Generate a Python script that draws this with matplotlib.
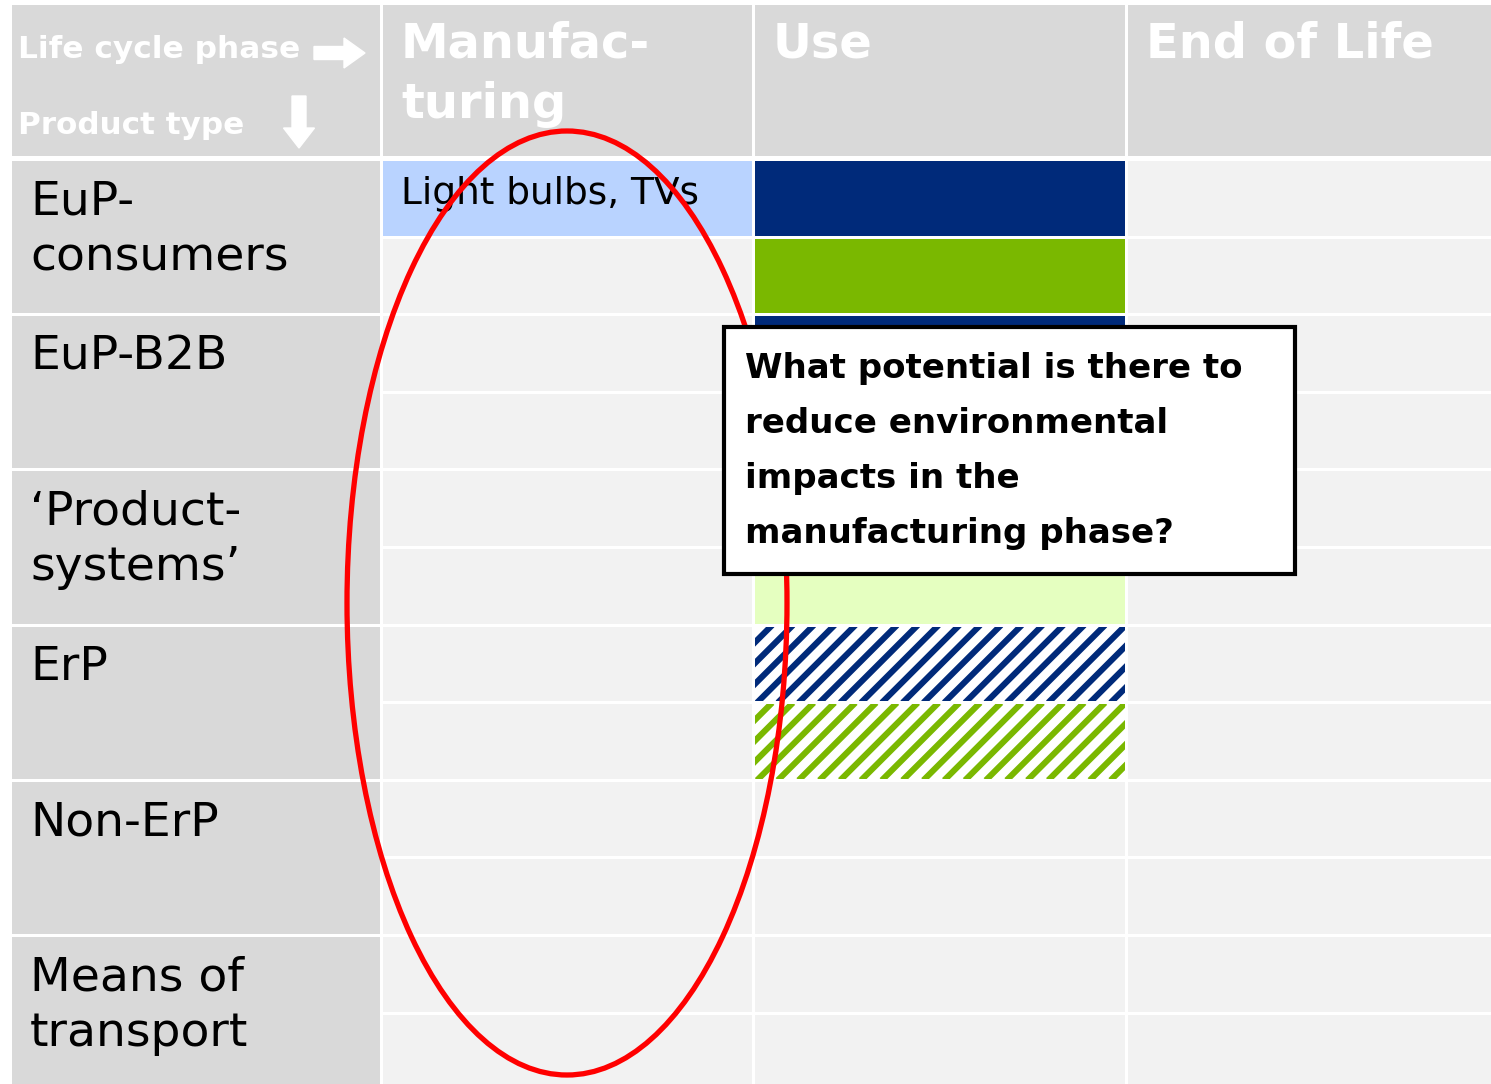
import matplotlib.pyplot as plt
from matplotlib.patches import Rectangle, Ellipse, FancyArrow
import numpy as np

# data
phases = ["Manufac-\nturing", "Use", "End of Life"]
product_types = ["EuP-\nconsumers", "EuP-B2B", "\u2018Product-\nsystems\u2019",
                 "ErP", "Non-ErP", "Means of\ntransport"]
corner_top = "Life cycle phase"
corner_bottom = "Product type"
manuf_note = "Light bulbs, TVs"
question = ("What potential is there to\nreduce environmental\n"
            "impacts in the\nmanufacturing phase?")

navy = "#002a7a"
green = "#7ab800"
lightblue = "#b9d3ff"
lightgreen = "#e5ffc0"
# fill of the 12 sub-rows in the "Use" column (None = plain cell)
use_fill = [navy, green, navy, green, lightblue, lightgreen,
            navy, green, None, None, None, None]
use_hatched = [False] * 6 + [True, True] + [False] * 4

# layout (pixels)
W, H = 1491, 1084
col_edges = [10, 381, 753, 1126, 1493]
head_top, head_bot = 5, 157
row_top, row_step = 159.5, 77.6
gap = 1.5
grey_dark = "#d9d9d9"
grey_light = "#f2f2f2"

fig = plt.figure(figsize=(W / 100, H / 100), dpi=100)
ax = fig.add_axes([0, 0, 1, 1])
ax.set_xlim(0, W)
ax.set_ylim(H, 0)
ax.axis("off")


def cell(x0, x1, y0, y1, fc, **kw):
    r = Rectangle((x0 + gap, y0 + gap), x1 - x0 - 2 * gap, y1 - y0 - 2 * gap,
                  facecolor=fc, edgecolor="none", **kw)
    ax.add_patch(r)
    return r


# header
for c in range(4):
    cell(col_edges[c], col_edges[c + 1], head_top - gap, head_bot, grey_dark)
for c, name in enumerate(phases):
    ax.text(col_edges[c + 1] + 20, 20, name, color="white", fontsize=34.5,
            fontweight="bold", va="top", ha="left", linespacing=1.37)

ax.text(18, 50, corner_top, color="white", fontsize=22.5, fontweight="bold",
        va="center", ha="left")
ax.text(18, 126, corner_bottom, color="white", fontsize=22.3, fontweight="bold",
        va="center", ha="left")
ax.add_patch(FancyArrow(314, 53, 30, 0, width=13, head_width=30,
                        head_length=21, color="white"))
ax.add_patch(FancyArrow(299, 96, 0, 32, width=14, head_width=31,
                        head_length=20, color="white"))

n_sub = 2 * len(product_types)
rows_y = [row_top + i * row_step for i in range(n_sub + 1)]

# left column: product types
for i, name in enumerate(product_types):
    y0, y1 = rows_y[2 * i], rows_y[2 * i + 2]
    cell(col_edges[0], col_edges[1], y0, y1, grey_dark)
    ax.text(30, y0 + 20, name, fontsize=34, va="top", ha="left",
            linespacing=1.3)

# body cells
for i in range(n_sub):
    y0, y1 = rows_y[i], rows_y[i + 1]
    for c in range(1, 4):
        fc = grey_light
        if c == 1 and i == 0:
            fc = lightblue
        if c == 2 and use_fill[i] is not None:
            fc = "white" if use_hatched[i] else use_fill[i]
        r = cell(col_edges[c], col_edges[c + 1], y0, y1, fc)
        if c == 2 and use_hatched[i]:
            x0, x1 = col_edges[c], col_edges[c + 1]
            for s in np.arange(x0 - 100, x1 + 100, 20.8):
                ln, = ax.plot([s, s + (y1 - y0)], [y1, y0], color=use_fill[i],
                              lw=4.4, solid_capstyle="butt")
                ln.set_clip_path(r)

ax.text(col_edges[1] + 20, rows_y[0] + 34, manuf_note, fontsize=27,
        va="center", ha="left")

# red ellipse around manufacturing column
ax.add_patch(Ellipse((567, 603), 440, 944, fill=False, edgecolor="#ff0000",
                     lw=3.8, zorder=5))

# question box
ax.add_patch(Rectangle((724, 327), 571, 247, facecolor="white",
                       edgecolor="black", lw=3, zorder=6))
ax.text(745, 352, question, fontsize=24.5, fontweight="bold", va="top",
        ha="left", linespacing=1.85, zorder=7)

fig.savefig("out.png", dpi=100)
